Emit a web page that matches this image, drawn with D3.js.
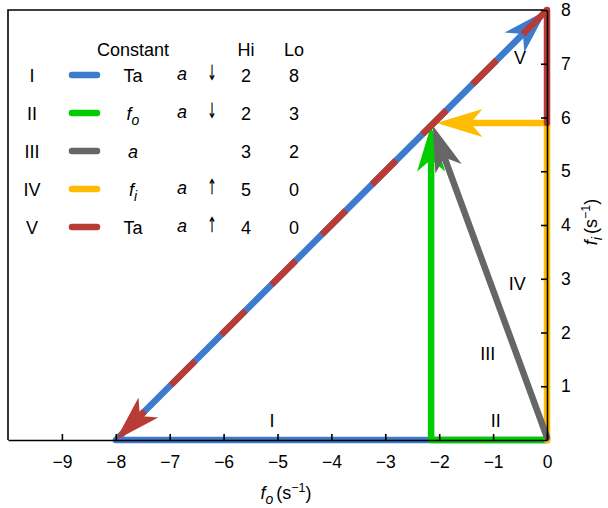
<!DOCTYPE html>
<html>
<head>
<meta charset="utf-8">
<script src="https://cdn.jsdelivr.net/npm/d3@7"></script>
<style>
  body { margin: 0; background: #fff; }
  svg { font-family: "Liberation Sans", Arial, sans-serif; }
</style>
</head>
<body>
<svg id="chart" width="608" height="508"></svg>
<script>
// data
const xTicks = [-9, -8, -7, -6, -5, -4, -3, -2, -1, 0];
const yTicks = [1, 2, 3, 4, 5, 6, 7, 8];
const pathIds = ["I", "II", "III", "IV", "V"];
const pathColors = ["#3d7bcc", "#00cc00", "#666666", "#ffbc00", "#b83b35"];
const constNames = [["Ta"], ["f", "o"], ["a"], ["f", "i"], ["Ta"]];
const aDir = ["\u2193", "\u2193", "", "\u2191", "\u2191"];
const hiVals = [2, 2, 3, 5, 4];
const loVals = [8, 3, 2, 0, 0];
// vertices (fo, fi) of each path
const pathI = [[0, 0], [-8, 0], [0, 8]];
const pathII = [[0, 0], [-2.15, 0], [-2.15, 5.85]];
const pathIII = [[0, 0.05], [-2.12, 5.85]];
const pathIV = [[0, 0], [0, 5.9], [-2.05, 5.9]];
const pathVside = [[0, 5.9], [0, 8]];
const pathVdiag = [[0, 8], [-8, 0]];
const labelPos = [[-5.1, 0.35], [-0.95, 0.35], [-1.1, 1.6], [-0.55, 2.9], [-0.5, 7.1]];

const svg = d3.select("#chart");
const x = d3.scaleLinear().domain([-10, 0]).range([8, 547]);
const y = d3.scaleLinear().domain([0, 8]).range([440, 10]);
const lw = 6.5;
const headL = 46, headW = 14, notch = 12;

// shorten the last segment so the line stops inside the arrow head
function trimmed(pts) {
  const p = pts.map(d => [x(d[0]), y(d[1])]);
  const a = p[p.length - 2], b = p[p.length - 1];
  const dx = b[0] - a[0], dy = b[1] - a[1];
  const len = Math.hypot(dx, dy);
  const k = (headL - notch - 2) / len;
  p[p.length - 1] = [b[0] - dx * k, b[1] - dy * k];
  return p;
}

function drawHead(pts, color) {
  const a = [x(pts[pts.length - 2][0]), y(pts[pts.length - 2][1])];
  const b = [x(pts[pts.length - 1][0]), y(pts[pts.length - 1][1])];
  const len = Math.hypot(b[0] - a[0], b[1] - a[1]);
  const ux = (b[0] - a[0]) / len, uy = (b[1] - a[1]) / len;
  const nx = -uy, ny = ux;
  const pts2 = [
    b,
    [b[0] - headL * ux + headW * nx, b[1] - headL * uy + headW * ny],
    [b[0] - (headL - notch) * ux, b[1] - (headL - notch) * uy],
    [b[0] - headL * ux - headW * nx, b[1] - headL * uy - headW * ny]
  ];
  svg.append("path")
    .attr("d", "M" + pts2.map(p => p.join(",")).join("L") + "Z")
    .attr("fill", color);
}

function drawLine(pts, color, withHead, dash) {
  const p = withHead ? trimmed(pts) : pts.map(d => [x(d[0]), y(d[1])]);
  const path = svg.append("path")
    .attr("d", d3.line()(p))
    .attr("fill", "none")
    .attr("stroke", color)
    .attr("stroke-width", lw)
    .attr("stroke-linecap", dash ? "butt" : "round")
    .attr("stroke-linejoin", "round");
  if (dash) path.attr("stroke-dasharray", dash);
  if (withHead) drawHead(pts, color);
}

// frame top and left
svg.append("path")
  .attr("d", `M${x(0)},${y(8)}H${x(-10)}V${y(0)}`)
  .attr("fill", "none").attr("stroke", "#000").attr("stroke-width", 1.6);

// paths
drawLine(pathI, pathColors[0], true);
drawLine(pathII, pathColors[1], true);
drawLine(pathIV, pathColors[3], true);
drawLine(pathIII, pathColors[2], true);
drawLine(pathVside, pathColors[4], false);
drawLine(pathVdiag, pathColors[4], true, "34 37");

// axes
const xAxis = d3.axisBottom(x).tickValues(xTicks).tickSizeInner(-6).tickSizeOuter(0).tickPadding(16);
const yAxis = d3.axisRight(y).tickValues(yTicks).tickSizeInner(-6).tickSizeOuter(0).tickPadding(14);

const gx = svg.append("g").attr("transform", `translate(0,${y(0)})`).call(xAxis);
const gy = svg.append("g").attr("transform", `translate(${x(0)},0)`).call(yAxis);
[gx, gy].forEach(g => {
  g.selectAll(".domain").attr("stroke-width", 1.6);
  g.selectAll(".tick line").attr("stroke-width", 1.6);
  g.selectAll("text").attr("font-size", 17.5).attr("font-family", "Liberation Sans, Arial, sans-serif");
});

// axis titles
const xt = svg.append("text").attr("x", 286).attr("y", 499).attr("text-anchor", "middle").attr("font-size", 18);
xt.append("tspan").attr("font-style", "italic").text("f");
xt.append("tspan").attr("font-style", "italic").attr("font-size", 14).attr("dy", 5).text("o");
xt.append("tspan").attr("dy", -5).attr("dx", 3).text("(s");
xt.append("tspan").attr("font-size", 12.5).attr("dy", -7).text("\u22121");
xt.append("tspan").attr("dy", 7).text(")");

const yt = svg.append("text")
  .attr("transform", "translate(597,222) rotate(-90)")
  .attr("text-anchor", "middle").attr("font-size", 18);
yt.append("tspan").attr("font-style", "italic").text("f");
yt.append("tspan").attr("font-style", "italic").attr("font-size", 14).attr("dy", 5).text("i");
yt.append("tspan").attr("dy", -5).attr("dx", 3).text("(s");
yt.append("tspan").attr("font-size", 12.5).attr("dy", -7).text("\u22121");
yt.append("tspan").attr("dy", 7).text(")");

// path labels
svg.selectAll(".plabel")
  .data(pathIds)
  .enter().append("text")
  .attr("class", "plabel")
  .attr("x", (d, i) => x(labelPos[i][0]))
  .attr("y", (d, i) => y(labelPos[i][1]))
  .attr("text-anchor", "middle")
  .attr("dominant-baseline", "central")
  .attr("font-size", 18)
  .text(d => d);

// legend table
const rowY = [76, 114, 152, 190, 228];
const col = {id: 32, sw0: 72, sw1: 97, cst: 133, a: 182, dir: 212, hi: 246, lo: 294};
const head = svg.append("g").attr("font-size", 18).attr("text-anchor", "middle");
head.append("text").attr("x", col.cst).attr("y", 50).attr("dominant-baseline", "central").text("Constant");
head.append("text").attr("x", col.hi).attr("y", 50).attr("dominant-baseline", "central").text("Hi");
head.append("text").attr("x", col.lo).attr("y", 50).attr("dominant-baseline", "central").text("Lo");

const rows = svg.selectAll(".lrow")
  .data(pathIds)
  .enter().append("g")
  .attr("class", "lrow")
  .attr("transform", (d, i) => `translate(0,${rowY[i]})`)
  .attr("font-size", 18)
  .attr("text-anchor", "middle");

rows.append("text").attr("x", col.id).attr("dominant-baseline", "central").text(d => d);
rows.append("line")
  .attr("x1", col.sw0).attr("x2", col.sw1).attr("y1", -1).attr("y2", -1)
  .attr("stroke", (d, i) => pathColors[i])
  .attr("stroke-width", lw)
  .attr("stroke-linecap", "round");
rows.each(function (d, i) {
  const t = d3.select(this).append("text").attr("x", col.cst).attr("dominant-baseline", "central");
  const c = constNames[i];
  if (c.length === 1) {
    t.append("tspan").attr("font-style", c[0] === "a" ? "italic" : "normal").text(c[0]);
  } else {
    t.append("tspan").attr("font-style", "italic").text(c[0]);
    t.append("tspan").attr("font-style", "italic").attr("font-size", 14).attr("dy", 6).text(c[1]);
  }
  if (aDir[i]) {
    d3.select(this).append("text").attr("x", col.a).attr("y", -2).attr("dominant-baseline", "central")
      .attr("font-style", "italic").text("a");
    d3.select(this).append("text").attr("x", col.dir).attr("y", -3)
      .attr("dominant-baseline", "central")
      .attr("font-family", "DejaVu Sans")
      .attr("fill", "#000")
      .attr("stroke", "#000").attr("stroke-width", 0.2)
      .attr("transform", `translate(${col.dir},0) scale(0.7,1.3) translate(${-col.dir},0)`)
      .attr("font-size", 16).text(aDir[i]);
  }
});
rows.append("text").attr("x", col.hi).attr("dominant-baseline", "central").text((d, i) => hiVals[i]);
rows.append("text").attr("x", col.lo).attr("dominant-baseline", "central").text((d, i) => loVals[i]);
</script>
</body>
</html>
